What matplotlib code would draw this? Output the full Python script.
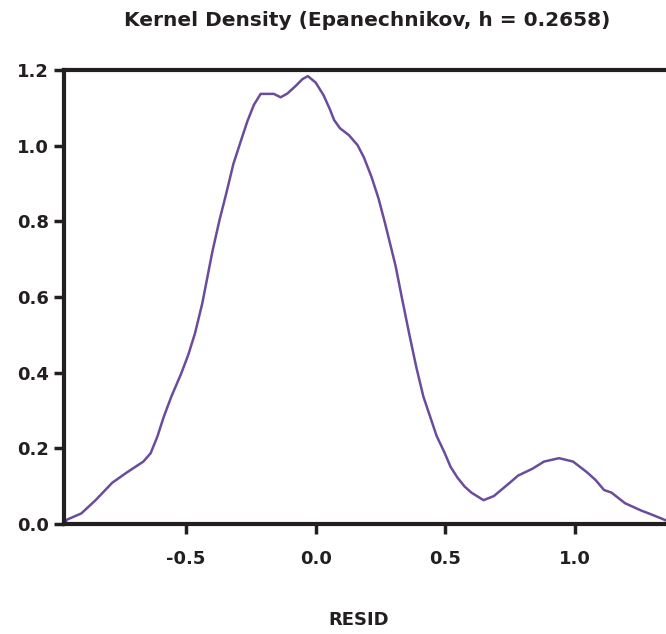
import matplotlib
matplotlib.use('Agg')
import matplotlib.pyplot as plt

# kernel density curve
resid = [-0.965, -0.960, -0.903, -0.848, -0.784, -0.726, -0.664, -0.636, -0.610, -0.585,
         -0.556, -0.518, -0.491, -0.465, -0.437, -0.398, -0.370, -0.343, -0.317, -0.289,
         -0.263, -0.238, -0.212, -0.161, -0.135, -0.109, -0.077, -0.051, -0.030, 0.000,
         0.030, 0.055, 0.071, 0.094, 0.128, 0.161, 0.186, 0.215, 0.242, 0.267,
         0.293, 0.308, 0.334, 0.361, 0.388, 0.415, 0.441, 0.466, 0.495, 0.520,
         0.546, 0.574, 0.600, 0.647, 0.687, 0.720, 0.748, 0.780, 0.835, 0.880,
         0.938, 0.992, 1.045, 1.079, 1.111, 1.140, 1.192, 1.253, 1.291, 1.345, 1.36]
density = [0.000, 0.011, 0.028, 0.063, 0.109, 0.137, 0.165, 0.187, 0.231, 0.284,
           0.337, 0.398, 0.447, 0.504, 0.583, 0.720, 0.805, 0.878, 0.952, 1.011,
           1.065, 1.108, 1.137, 1.137, 1.128, 1.138, 1.158, 1.176, 1.184, 1.167,
           1.134, 1.096, 1.068, 1.046, 1.028, 1.002, 0.969, 0.918, 0.861, 0.796,
           0.724, 0.682, 0.592, 0.501, 0.414, 0.337, 0.284, 0.233, 0.191, 0.151,
           0.123, 0.099, 0.083, 0.063, 0.074, 0.093, 0.109, 0.128, 0.146, 0.165,
           0.174, 0.165, 0.137, 0.116, 0.090, 0.083, 0.055, 0.036, 0.026, 0.011, 0.006]

xticks = [-0.5, 0.0, 0.5, 1.0]
yticks = [0.0, 0.2, 0.4, 0.6, 0.8, 1.0, 1.2]

fig = plt.figure(figsize=(6.66, 6.34), dpi=100)
ax = fig.add_axes([0.096, 0.1735, 0.904, 0.716])

ax.plot(resid, density, color='#6a4c9c', linewidth=1.8)

ax.set_xlim(-0.97, 1.35)
ax.set_ylim(0, 1.2)
ax.set_xticks(xticks)
ax.set_xticklabels(['-0.5', '0.0', '0.5', '1.0'])
ax.set_yticks(yticks)
ax.set_yticklabels(['%.1f' % v for v in yticks])

ax.spines['right'].set_visible(False)
for s in ['left', 'bottom', 'top']:
    ax.spines[s].set_linewidth(3)
    ax.spines[s].set_color('#231f20')
ax.tick_params(direction='out', length=7, width=2.5, color='#231f20', pad=4,
               labelsize=13)
ax.tick_params(axis='x', pad=12)
for lab in ax.get_xticklabels() + ax.get_yticklabels():
    lab.set_fontweight('bold')
    lab.set_color('#231f20')

fig.text(0.552, 0.967, 'Kernel Density (Epanechnikov, h = 0.2658)', ha='center', va='center',
         fontsize=14.5, fontweight='bold', color='#231f20')
fig.text(0.538, 0.022, 'RESID', ha='center', va='center', fontsize=13, fontweight='bold',
         color='#231f20')

plt.savefig('out.png', dpi=100)
